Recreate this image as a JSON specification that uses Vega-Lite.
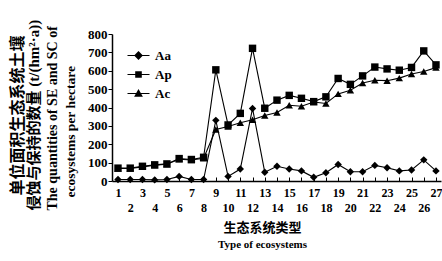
{
  "$schema": "https://vega.github.io/schema/vega-lite/v6.json",
  "autosize": "none",
  "width": 329,
  "height": 147,
  "padding": {"left": 112, "top": 34, "right": 1, "bottom": 80},
  "background": "white",
  "config": {
    "view": {"stroke": null},
    "font": "Liberation Serif, Noto Sans CJK SC",
    "axis": {"domainColor": "black", "tickColor": "black", "labelColor": "black", "titleColor": "black", "labelFont": "Liberation Serif", "labelFontWeight": "bold", "titleFont": "Liberation Serif, Noto Sans CJK SC", "titleFontWeight": "bold", "grid": false, "domainWidth": 1.5, "tickWidth": 1, "titleLimit": 400}
  },
  "data": {
    "values": [
      {"type": 1, "series": "Aa", "value": 8}, {"type": 2, "series": "Aa", "value": 8}, {"type": 3, "series": "Aa", "value": 8}, {"type": 4, "series": "Aa", "value": 6}, {"type": 5, "series": "Aa", "value": 8}, {"type": 6, "series": "Aa", "value": 25}, {"type": 7, "series": "Aa", "value": 8}, {"type": 8, "series": "Aa", "value": 8}, {"type": 9, "series": "Aa", "value": 330}, {"type": 10, "series": "Aa", "value": 25}, {"type": 11, "series": "Aa", "value": 65}, {"type": 12, "series": "Aa", "value": 395}, {"type": 13, "series": "Aa", "value": 48}, {"type": 14, "series": "Aa", "value": 80}, {"type": 15, "series": "Aa", "value": 65}, {"type": 16, "series": "Aa", "value": 55}, {"type": 17, "series": "Aa", "value": 20}, {"type": 18, "series": "Aa", "value": 45}, {"type": 19, "series": "Aa", "value": 90}, {"type": 20, "series": "Aa", "value": 50}, {"type": 21, "series": "Aa", "value": 50}, {"type": 22, "series": "Aa", "value": 85}, {"type": 23, "series": "Aa", "value": 72}, {"type": 24, "series": "Aa", "value": 55}, {"type": 25, "series": "Aa", "value": 60}, {"type": 26, "series": "Aa", "value": 115}, {"type": 27, "series": "Aa", "value": 55},
      {"type": 1, "series": "Ap", "value": 70}, {"type": 2, "series": "Ap", "value": 70}, {"type": 3, "series": "Ap", "value": 80}, {"type": 4, "series": "Ap", "value": 88}, {"type": 5, "series": "Ap", "value": 93}, {"type": 6, "series": "Ap", "value": 122}, {"type": 7, "series": "Ap", "value": 117}, {"type": 8, "series": "Ap", "value": 129}, {"type": 9, "series": "Ap", "value": 605}, {"type": 10, "series": "Ap", "value": 305}, {"type": 11, "series": "Ap", "value": 368}, {"type": 12, "series": "Ap", "value": 722}, {"type": 13, "series": "Ap", "value": 396}, {"type": 14, "series": "Ap", "value": 440}, {"type": 15, "series": "Ap", "value": 466}, {"type": 16, "series": "Ap", "value": 450}, {"type": 17, "series": "Ap", "value": 432}, {"type": 18, "series": "Ap", "value": 458}, {"type": 19, "series": "Ap", "value": 558}, {"type": 20, "series": "Ap", "value": 526}, {"type": 21, "series": "Ap", "value": 572}, {"type": 22, "series": "Ap", "value": 620}, {"type": 23, "series": "Ap", "value": 610}, {"type": 24, "series": "Ap", "value": 603}, {"type": 25, "series": "Ap", "value": 618}, {"type": 26, "series": "Ap", "value": 708}, {"type": 27, "series": "Ap", "value": 632},
      {"type": 1, "series": "Ac", "value": 68}, {"type": 2, "series": "Ac", "value": 68}, {"type": 3, "series": "Ac", "value": 77}, {"type": 4, "series": "Ac", "value": 86}, {"type": 5, "series": "Ac", "value": 91}, {"type": 6, "series": "Ac", "value": 118}, {"type": 7, "series": "Ac", "value": 114}, {"type": 8, "series": "Ac", "value": 124}, {"type": 9, "series": "Ac", "value": 280}, {"type": 10, "series": "Ac", "value": 297}, {"type": 11, "series": "Ac", "value": 317}, {"type": 12, "series": "Ac", "value": 333}, {"type": 13, "series": "Ac", "value": 356}, {"type": 14, "series": "Ac", "value": 373}, {"type": 15, "series": "Ac", "value": 412}, {"type": 16, "series": "Ac", "value": 407}, {"type": 17, "series": "Ac", "value": 430}, {"type": 18, "series": "Ac", "value": 422}, {"type": 19, "series": "Ac", "value": 474}, {"type": 20, "series": "Ac", "value": 494}, {"type": 21, "series": "Ac", "value": 533}, {"type": 22, "series": "Ac", "value": 548}, {"type": 23, "series": "Ac", "value": 546}, {"type": 24, "series": "Ac", "value": 560}, {"type": 25, "series": "Ac", "value": 582}, {"type": 26, "series": "Ac", "value": 596}, {"type": 27, "series": "Ac", "value": 617}
    ]
  },
  "resolve": {
    "scale": {"shape": "independent"},
    "axis": {"x": "independent", "y": "independent"},
    "legend": {"shape": "independent"}
  },
  "layer": [
    {
      "layer": [
        {
          "mark": {"type": "line", "color": "black", "strokeWidth": 1.1},
          "encoding": {"detail": {"field": "series"}}
        },
        {
          "mark": {"type": "point", "filled": true, "color": "black", "opacity": 1},
          "encoding": {
            "shape": {
              "field": "series", "type": "nominal",
              "scale": {"domain": ["Aa", "Ap", "Ac"], "range": ["diamond", "square", "triangle-up"]},
              "legend": null
            },
            "size": {"value": 55}
          }
        }
      ],
      "encoding": {
        "x": {
          "field": "type", "type": "quantitative",
          "scale": {"domain": [0.51, 27.41], "nice": false, "zero": false},
          "axis": {
            "orient": "bottom",
            "values": [1,2,3,4,5,6,7,8,9,10,11,12,13,14,15,16,17,18,19,20,21,22,23,24,25,26,27],
            "labelExpr": "datum.value % 2 == 0 ? ['', datum.label] : datum.label",
            "labelLineHeight": 15,
            "labelFontSize": 12,
            "labelPadding": 10,
            "labelBaseline": "top",
            "labelOverlap": false,
            "labelFlush": false,
            "tickSize": -4,
            "title": "生态系统类型",
            "titleFont": "Noto Sans CJK SC",
            "titleFontSize": 13,
            "titleX": 150,
            "titleY": 46,
            "titleAlign": "center",
            "titleBaseline": "middle"
          }
        },
        "y": {
          "field": "value", "type": "quantitative",
          "scale": {"domain": [0, 800], "nice": false},
          "axis": {
            "orient": "left",
            "values": [0,100,200,300,400,500,600,700,800],
            "labelFontSize": 13,
            "labelPadding": 1,
            "tickSize": 4,
            "title": "单位面积生态系统土壤",
            "titleFont": "Noto Sans CJK SC",
            "titleFontSize": 16,
            "titleAngle": -90,
            "titleX": -95,
            "titleY": 161,
            "titleAlign": "left",
            "titleBaseline": "middle"
          }
        }
      }
    },
    {
      "transform": [{"filter": "datum.type == 1"}],
      "mark": {"type": "point", "filled": true, "color": "black", "opacity": 0},
      "encoding": {
        "x": {
          "field": "type", "type": "quantitative",
          "axis": {
            "orient": "bottom",
            "labels": false, "ticks": false, "domain": false,
            "title": "Type of ecosystems",
            "titleFontSize": 11,
            "titleX": 150,
            "titleY": 63,
            "titleAlign": "center",
            "titleBaseline": "middle"
          }
        },
        "y": {
          "field": "value", "type": "quantitative",
          "axis": {
            "orient": "left",
            "labels": false, "ticks": false, "domain": false,
            "title": "侵蚀与保持的数量 (t/(hm²·a))",
            "titleFontSize": 15,
            "titleAngle": -90,
            "titleX": -79,
            "titleY": 176,
            "titleAlign": "left",
            "titleBaseline": "middle"
          }
        },
        "shape": {
          "field": "series", "type": "nominal",
          "scale": {"domain": ["Aa", "Ap", "Ac"], "range": ["M-1,-0.05H1V0.05H-1ZM0,-0.4L0.4,0L0,0.4L-0.4,0Z", "M-1,-0.05H1V0.05H-1ZM-0.3,-0.3H0.3V0.3H-0.3Z", "M-1,-0.05H1V0.05H-1ZM0,-0.42L0.4,0.3H-0.4Z"]},
          "legend": {
            "orient": "none", "legendX": 15, "legendY": 10,
            "title": null,
            "symbolSize": 484,
            "symbolFillColor": "black",
            "symbolStrokeColor": "black",
            "symbolStrokeWidth": 0.5,
            "symbolOpacity": 1,
            "rowPadding": -3,
            "labelFont": "Liberation Serif",
            "labelFontWeight": "bold",
            "labelFontSize": 13,
            "labelColor": "black",
            "labelOffset": 5
          }
        }
      }
    },
    {
      "transform": [{"filter": "datum.type == 1"}],
      "mark": {"type": "point", "filled": true, "color": "black", "opacity": 0},
      "encoding": {
        "x": {"field": "type", "type": "quantitative", "axis": null},
        "y": {
          "field": "value", "type": "quantitative",
          "axis": {
            "orient": "left",
            "labels": false, "ticks": false, "domain": false,
            "title": "The quantities of SE and SC of",
            "titleFontSize": 14,
            "titleAngle": -90,
            "titleX": -60,
            "titleY": 176,
            "titleAlign": "left",
            "titleBaseline": "middle"
          }
        }
      }
    },
    {
      "transform": [{"filter": "datum.type == 1"}],
      "mark": {"type": "point", "filled": true, "color": "black", "opacity": 0},
      "encoding": {
        "x": {"field": "type", "type": "quantitative", "axis": null},
        "y": {
          "field": "value", "type": "quantitative",
          "axis": {
            "orient": "left",
            "labels": false, "ticks": false, "domain": false,
            "title": "ecosystems per hectare",
            "titleFontSize": 13.5,
            "titleAngle": -90,
            "titleX": -42,
            "titleY": 163,
            "titleAlign": "left",
            "titleBaseline": "middle"
          }
        }
      }
    }
  ]
}
